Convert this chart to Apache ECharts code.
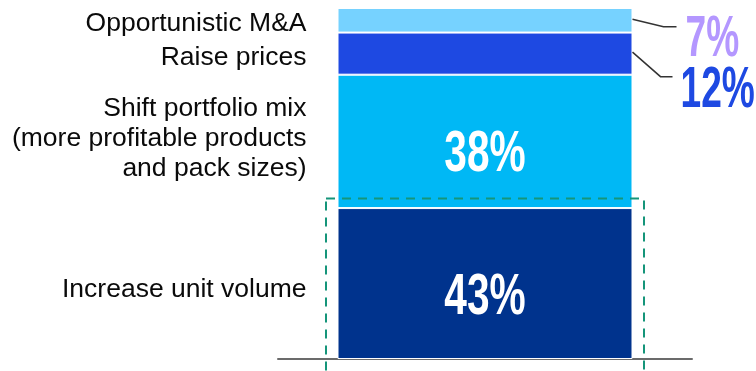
<!DOCTYPE html>
<html><head><meta charset="utf-8">
<script src="https://cdn.jsdelivr.net/npm/echarts@6/dist/echarts.min.js"></script>
<style>html,body{margin:0;padding:0;background:#fff}#c{width:756px;height:371px}</style>
</head><body><div id="c"></div>
<script>
// ---- data ----
const categories = [
  'Increase unit volume',
  'Shift portfolio mix\n(more profitable products\nand pack sizes)',
  'Raise prices',
  'Opportunistic M&A'
];
const values = [43, 38, 12, 7];
const valueLabels = ['43%', '38%', '12%', '7%'];
const xCategories = ['Total'];

// ---- styles ----
const barColors = ['#00338D', '#00B8F5', '#1E49E2', '#76D2FF'];
const sideColors = { 2: '#1E49E2', 3: '#B497FF' };
const nameOffsets = [[0, 6], [0, -3], [0, 4], [0, 3]];
const BAR_W = 295;
const pctFont = 'bold 58px "Liberation Sans", Arial, sans-serif';

const chart = echarts.init(document.getElementById('c'), null, { renderer: 'canvas' });

const series = categories.map((name, i) => ({
  type: 'bar', name, stack: 'total', data: [values[i]], barWidth: BAR_W,
  itemStyle: { color: barColors[i], borderColor: '#fff', borderWidth: 1 },
  label: {
    show: true, position: 'left', distance: 31, formatter: '{a}',
    color: '#0a0a0a', fontSize: 26.5, lineHeight: 30,
    fontFamily: '"Liberation Sans", Arial, sans-serif', align: 'right',
    offset: nameOffsets[i]
  },
  silent: true
}));

chart.setOption({
  animation: false,
  grid: { left: 278, right: 64, top: 8, bottom: 12 },
  xAxis: {
    type: 'category', data: xCategories,
    axisLine: { show: true, lineStyle: { color: '#6b6b6b', width: 2 } },
    axisTick: { show: false }, axisLabel: { show: false }, splitLine: { show: false }
  },
  yAxis: { type: 'value', min: 0, max: 100, show: false, splitLine: { show: false } },
  series
});

function buildGraphics() {
  const xc = chart.convertToPixel({ xAxisIndex: 0 }, 0);
  const left = xc - BAR_W / 2, right = xc + BAR_W / 2;
  const segs = [];
  let cum = 0;
  values.forEach(v => {
    const y0 = chart.convertToPixel({ yAxisIndex: 0 }, cum);
    const y1 = chart.convertToPixel({ yAxisIndex: 0 }, cum + v);
    segs.push({ y0, y1, mid: (y0 + y1) / 2 });
    cum += v;
  });
  const els = [];
  // in-bar labels
  [0, 1].forEach(i => {
    els.push({
      type: 'text', x: xc, y: segs[i].mid + 14, scaleX: 0.7, z: 20,
      style: { text: valueLabels[i], fill: '#fff', font: pctFont, align: 'center', verticalAlign: 'middle' }
    });
  });
  // side labels + leader lines
  const side = [
    { i: 3, dy0: -1, kx: 31, ky: 6.5, ex: 44, tx: 53, ty: 20 },
    { i: 2, dy0: -1.5, kx: 28, ky: 23, ex: 40, tx: 48, ty: 37 }
  ];
  side.forEach(s => {
    const m = segs[s.i].mid;
    els.push({
      type: 'polyline', z: 20,
      shape: { points: [[right, m + s.dy0], [right + s.kx, m + s.ky], [right + s.ex, m + s.ky]] },
      style: { stroke: '#333', lineWidth: 1.5, fill: null }
    });
    els.push({
      type: 'text', x: right + s.tx, y: m + s.ty, scaleX: 0.64, z: 20,
      style: { text: valueLabels[s.i], fill: sideColors[s.i], font: pctFont, align: 'left', verticalAlign: 'middle' }
    });
  });
  // dashed highlight box around first segment
  els.push({
    type: 'rect', z: 30,
    shape: { x: left - 11.5, y: segs[0].y1 - 9.5, width: BAR_W + 23, height: 400 },
    style: { fill: null, stroke: '#15957a', lineWidth: 2, lineDash: [9, 7] }
  });
  chart.setOption({ graphic: { elements: els } });
}
buildGraphics();
</script>
</body></html>
